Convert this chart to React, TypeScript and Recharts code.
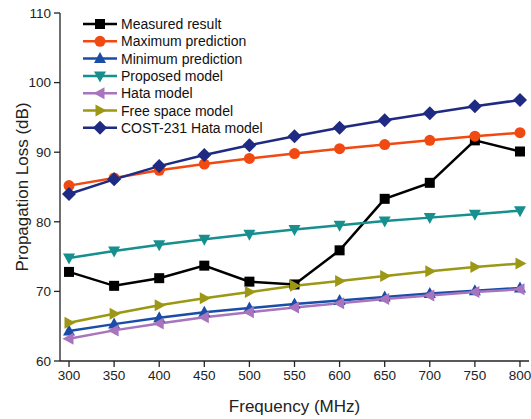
import React from "react"
import { LineChart, Line, XAxis, YAxis } from "recharts"

// frequencies (MHz)
const freqs = [300, 350, 400, 450, 500, 550, 600, 650, 700, 750, 800]

// propagation loss (dB) per series
const measured = [72.8, 70.8, 71.9, 73.7, 71.4, 71.0, 75.9, 83.3, 85.6, 91.7, 90.1]
const maxPred = [85.2, 86.3, 87.4, 88.3, 89.1, 89.8, 90.5, 91.1, 91.7, 92.3, 92.8]
const minPred = [64.3, 65.3, 66.2, 67.0, 67.6, 68.2, 68.7, 69.2, 69.7, 70.1, 70.5]
const proposed = [74.8, 75.8, 76.7, 77.5, 78.2, 78.9, 79.5, 80.1, 80.6, 81.1, 81.6]
const hata = [63.2, 64.4, 65.4, 66.3, 67.0, 67.7, 68.3, 68.9, 69.4, 69.9, 70.3]
const freeSpace = [65.5, 66.8, 68.0, 69.0, 69.9, 70.8, 71.5, 72.2, 72.9, 73.5, 74.0]
const cost231 = [84.0, 86.1, 88.0, 89.6, 91.0, 92.3, 93.5, 94.6, 95.6, 96.6, 97.5]

const xMajor = [300, 350, 400, 450, 500, 550, 600, 650, 700, 750, 800]
const xMinor = [325, 375, 425, 475, 525, 575, 625, 675, 725, 775]
const yMajor = [60, 70, 80, 90, 100, 110]
const yMinor = [65, 75, 85, 95, 105]

const series = [
  { key: "measured", name: "Measured result", color: "#000000", shape: "square", values: measured },
  { key: "maxPred", name: "Maximum prediction", color: "#F04A12", shape: "circle", values: maxPred },
  { key: "minPred", name: "Minimum prediction", color: "#1A4DA8", shape: "up", values: minPred },
  { key: "proposed", name: "Proposed model", color: "#178F8F", shape: "down", values: proposed },
  { key: "hata", name: "Hata model", color: "#A774BD", shape: "left", values: hata },
  { key: "freeSpace", name: "Free space model", color: "#9C9714", shape: "right", values: freeSpace },
  { key: "cost231", name: "COST-231 Hata model", color: "#1F2B82", shape: "diamond", values: cost231 },
]

const data = freqs.map((f, i) => {
  const row: Record<string, number> = { freq: f }
  series.forEach((s) => (row[s.key] = s.values[i]))
  return row
})

const FONT = "'Liberation Sans', Arial, sans-serif"

function Marker({ cx, cy, shape, color }: { cx: number; cy: number; shape: string; color: string }) {
  if (cx == null || cy == null) return null
  switch (shape) {
    case "square":
      return <rect x={cx - 5} y={cy - 5} width={10} height={10} fill={color} />
    case "circle":
      return <circle cx={cx} cy={cy} r={5.5} fill={color} />
    case "up":
      return <path d={`M${cx},${cy - 6.5}L${cx + 6},${cy + 4.5}L${cx - 6},${cy + 4.5}Z`} fill={color} />
    case "down":
      return <path d={`M${cx},${cy + 6.5}L${cx + 6},${cy - 4.5}L${cx - 6},${cy - 4.5}Z`} fill={color} />
    case "left":
      return <path d={`M${cx - 6.5},${cy}L${cx + 4.5},${cy - 6}L${cx + 4.5},${cy + 6}Z`} fill={color} />
    case "right":
      return <path d={`M${cx + 6.5},${cy}L${cx - 4.5},${cy - 6}L${cx - 4.5},${cy + 6}Z`} fill={color} />
    default:
      return <path d={`M${cx},${cy - 7}L${cx + 7},${cy}L${cx},${cy + 7}L${cx - 7},${cy}Z`} fill={color} />
  }
}

const LegendBox = () => (
  <svg width={320} height={140} style={{ position: "absolute", left: 0, top: 0, pointerEvents: "none" }}>
    {series.map((s, i) => {
      const y = 24 + i * 17.3
      return (
        <g key={s.key}>
          <line x1={83} x2={117} y1={y} y2={y} stroke={s.color} strokeWidth={2.5} />
          <Marker cx={100} cy={y} shape={s.shape} color={s.color} />
          <text x={121} y={y + 5} fontSize={14} fontFamily={FONT} fill="#111">
            {s.name}
          </text>
        </g>
      )
    })}
  </svg>
)

const tickStyle = { fontSize: 13.5, fontFamily: FONT, fill: "#222" }

export default function App() {
  return (
    <div style={{ position: "absolute", left: 0, top: 0, width: 531, height: 419, background: "#fff" }}>
      <LineChart width={531} height={419} data={data} margin={{ top: 13, right: 2, bottom: 0, left: 0 }}>
        {/* frame on top / right */}
        <XAxis xAxisId="top" orientation="top" dataKey="freq" type="number" domain={[290, 810]} height={0} tick={false} tickLine={false} stroke="#a8a8a8" strokeWidth={1.3} />
        <YAxis yAxisId="right" orientation="right" type="number" domain={[60, 110]} width={0} tick={false} tickLine={false} stroke="#a8a8a8" strokeWidth={1.3} />
        {/* minor ticks */}
        <XAxis xAxisId="minor" dataKey="freq" type="number" domain={[290, 810]} ticks={xMinor} height={0} tick={false} tickSize={3} axisLine={false} stroke="#222" strokeWidth={1.3} />
        <YAxis yAxisId="minor" type="number" domain={[60, 110]} ticks={yMinor} width={0} tick={false} tickSize={3} axisLine={false} stroke="#222" strokeWidth={1.3} />
        <XAxis
          dataKey="freq"
          type="number"
          domain={[290, 810]}
          ticks={xMajor}
          height={58}
          tickSize={6}
          tickMargin={3}
          stroke="#222"
          strokeWidth={1.3}
          tick={tickStyle}
          label={{ value: "Frequency (MHz)", position: "center", dy: 16, style: { fontSize: 17, fontFamily: FONT, fill: "#222" } }}
        />
        <YAxis
          type="number"
          domain={[60, 110]}
          ticks={yMajor}
          width={60}
          tickSize={6}
          tickMargin={3}
          stroke="#222"
          strokeWidth={1.3}
          tick={tickStyle}
          label={{ value: "Propagation Loss (dB)", angle: -90, position: "center", dx: -8, style: { fontSize: 17, fontFamily: FONT, fill: "#222", textAnchor: "middle" } }}
        />
        {series.map((s) => (
          <Line
            key={s.key}
            dataKey={s.key}
            stroke={s.color}
            strokeWidth={2.5}
            isAnimationActive={false}
            dot={(p: any) => <Marker key={`${s.key}-${p.index}`} cx={p.cx} cy={p.cy} shape={s.shape} color={s.color} />}
            activeDot={false}
          />
        ))}
      </LineChart>
      <LegendBox />
    </div>
  )
}
